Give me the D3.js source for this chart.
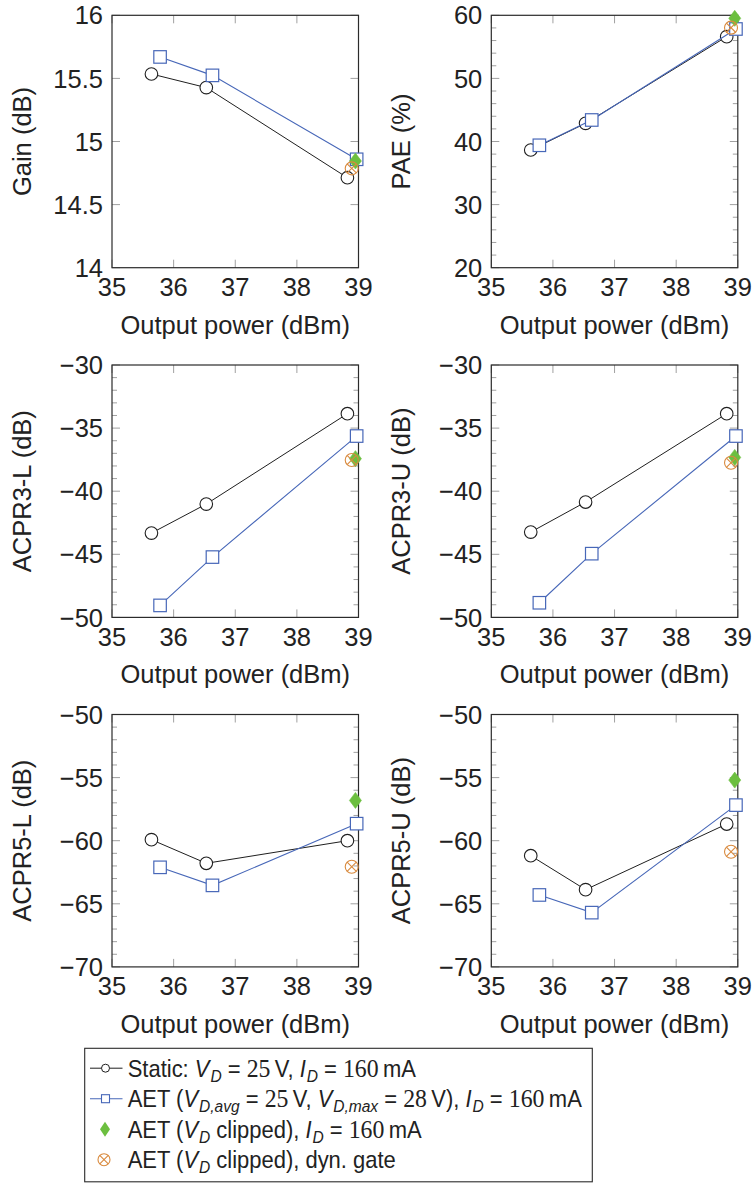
<!DOCTYPE html>
<html>
<head>
<meta charset="utf-8">
<script src="https://cdn.jsdelivr.net/npm/d3@7/dist/d3.min.js"></script>
<style>
  html, body { margin: 0; padding: 0; background: #fff; }
  svg { display: block; }
  text { font-family: "Liberation Sans", Arial, Helvetica, sans-serif; fill: #222; }
</style>
</head>
<body>
<svg id="chart" width="754" height="1183"></svg>
<script>
// Output power (dBm) of each measurement point
const xTicks = [35, 36, 37, 38, 39];
const staticPower = [35.64, 36.53, 38.82];
const aetPower = [35.78, 36.63, 38.97];
const clippedPower = 38.95;
const dynGatePower = 38.89;

// Gain (dB)
const gainStatic = [15.535, 15.427, 14.713];
const gainAet = [15.67, 15.524, 14.859];
const gainClipped = 14.845;
const gainDynGate = 14.787;

// PAE (%)
const paeStatic = [38.65, 42.88, 56.62];
const paeAet = [39.4, 43.41, 57.83];
const paeClipped = 59.52;
const paeDynGate = 58.04;

// ACPR3 lower / upper (dB)
const acpr3LStatic = [-43.32, -41.02, -33.86];
const acpr3LAet = [-49.05, -45.22, -35.63];
const acpr3LClipped = -37.42;
const acpr3LDynGate = -37.53;

const acpr3UStatic = [-43.24, -40.86, -33.86];
const acpr3UAet = [-48.84, -44.95, -35.63];
const acpr3UClipped = -37.32;
const acpr3UDynGate = -37.74;

// ACPR5 lower / upper (dB)
const acpr5LStatic = [-59.92, -61.79, -60.0];
const acpr5LAet = [-62.11, -63.54, -58.65];
const acpr5LClipped = -56.81;
const acpr5LDynGate = -62.06;

const acpr5UStatic = [-61.19, -63.88, -58.68];
const acpr5UAet = [-64.30, -65.70, -57.18];
const acpr5UClipped = -55.20;
const acpr5UDynGate = -60.87;

// y-axis ranges and ticks
const gainTicks = [14, 14.5, 15, 15.5, 16];
const paeTicks = [20, 30, 40, 50, 60];
const acpr3Ticks = [-50, -45, -40, -35, -30];
const acpr5Ticks = [-70, -65, -60, -55, -50];

const panels = [
  { label: "Gain (dB)", col: 0, row: 0, domain: [14, 16], ticks: gainTicks, minorStep: null,
    stat: gainStatic, aet: gainAet, clipped: gainClipped, dyn: gainDynGate },
  { label: "PAE (%)", col: 1, row: 0, domain: [20, 60], ticks: paeTicks, minorStep: 2,
    stat: paeStatic, aet: paeAet, clipped: paeClipped, dyn: paeDynGate },
  { label: "ACPR3-L (dB)", col: 0, row: 1, domain: [-50, -30], ticks: acpr3Ticks, minorStep: 1,
    stat: acpr3LStatic, aet: acpr3LAet, clipped: acpr3LClipped, dyn: acpr3LDynGate },
  { label: "ACPR3-U (dB)", col: 1, row: 1, domain: [-50, -30], ticks: acpr3Ticks, minorStep: 1,
    stat: acpr3UStatic, aet: acpr3UAet, clipped: acpr3UClipped, dyn: acpr3UDynGate },
  { label: "ACPR5-L (dB)", col: 0, row: 2, domain: [-70, -50], ticks: acpr5Ticks, minorStep: 1,
    stat: acpr5LStatic, aet: acpr5LAet, clipped: acpr5LClipped, dyn: acpr5LDynGate },
  { label: "ACPR5-U (dB)", col: 1, row: 2, domain: [-70, -50], ticks: acpr5Ticks, minorStep: 1,
    stat: acpr5UStatic, aet: acpr5UAet, clipped: acpr5UClipped, dyn: acpr5UDynGate }
];

// layout
const colLeft = [112, 491.3];
const plotW = 246.5;
const rowTop = [15.3, 365, 714.5];
const plotH = 252.4;
const fontSize = 25.5;

const COLORS = {
  stat: "#1f1f1f",
  aet: "#4767b8",
  clipped: "#6cbf3f",
  dyn: "#d98a3e",
  frame: "#2b2b2b",
  tick: "#a0a0a0"
};

const svg = d3.select("#chart");
const fmt = v => (v < 0 ? "\u2212" + Math.abs(v) : String(v));

function drawMarkers(g, type, pts, x, y) {
  if (type === "circle") {
    g.selectAll(null).data(pts).join("circle")
      .attr("cx", d => x(d[0])).attr("cy", d => y(d[1])).attr("r", 6.3)
      .attr("fill", "#fff").attr("stroke", COLORS.stat).attr("stroke-width", 1.1);
  } else if (type === "square") {
    const s = 12.5;
    g.selectAll(null).data(pts).join("rect")
      .attr("x", d => x(d[0]) - s / 2).attr("y", d => y(d[1]) - s / 2)
      .attr("width", s).attr("height", s)
      .attr("fill", "#fff").attr("stroke", COLORS.aet).attr("stroke-width", 1.2);
  } else if (type === "diamond") {
    const w = 6, h = 8;
    g.selectAll(null).data(pts).join("path")
      .attr("d", d => {
        const cx = x(d[0]), cy = y(d[1]);
        return `M${cx},${cy - h}L${cx + w},${cy}L${cx},${cy + h}L${cx - w},${cy}Z`;
      })
      .attr("fill", COLORS.clipped).attr("stroke", COLORS.clipped).attr("stroke-width", 0.6);
  } else if (type === "otimes") {
    const r = 6.5, k = r * Math.SQRT1_2;
    const m = g.selectAll(null).data(pts).join("g")
      .attr("transform", d => `translate(${x(d[0])},${y(d[1])})`)
      .attr("fill", "none").attr("stroke", COLORS.dyn).attr("stroke-width", 1.1);
    m.append("circle").attr("r", r);
    m.append("path").attr("d", `M${-k},${-k}L${k},${k}M${-k},${k}L${k},${-k}`);
  }
}

panels.forEach(p => {
  const left = colLeft[p.col], top = rowTop[p.row];
  const x = d3.scaleLinear().domain([35, 39]).range([left, left + plotW]);
  const y = d3.scaleLinear().domain(p.domain).range([top + plotH, top]);
  const g = svg.append("g");

  // inward ticks on all four sides
  const tickG = g.append("g").attr("stroke", COLORS.tick).attr("stroke-width", 1);
  if (p.minorStep) {
    const minor = d3.range(p.domain[0], p.domain[1] + 1e-9, p.minorStep)
      .filter(v => !p.ticks.some(t => Math.abs(t - v) < 1e-9));
    minor.forEach(v => {
      tickG.append("line").attr("x1", left).attr("x2", left + 5).attr("y1", y(v)).attr("y2", y(v));
      tickG.append("line").attr("x1", left + plotW - 5).attr("x2", left + plotW).attr("y1", y(v)).attr("y2", y(v));
    });
  }
  p.ticks.forEach(v => {
    tickG.append("line").attr("x1", left).attr("x2", left + 8).attr("y1", y(v)).attr("y2", y(v));
    tickG.append("line").attr("x1", left + plotW - 8).attr("x2", left + plotW).attr("y1", y(v)).attr("y2", y(v));
  });
  xTicks.forEach(v => {
    tickG.append("line").attr("x1", x(v)).attr("x2", x(v)).attr("y1", top + plotH).attr("y2", top + plotH - 8);
    tickG.append("line").attr("x1", x(v)).attr("x2", x(v)).attr("y1", top).attr("y2", top + 8);
  });

  // frame
  g.append("rect").attr("x", left).attr("y", top).attr("width", plotW).attr("height", plotH)
    .attr("fill", "none").attr("stroke", COLORS.frame).attr("stroke-width", 1.2);

  // tick labels
  g.selectAll(null).data(p.ticks).join("text")
    .attr("x", left - 9).attr("y", d => y(d)).attr("dy", "0.36em")
    .attr("text-anchor", "end").attr("font-size", fontSize).text(fmt);
  g.selectAll(null).data(xTicks).join("text")
    .attr("x", d => x(d)).attr("y", top + plotH + 28.5)
    .attr("text-anchor", "middle").attr("font-size", fontSize).text(d => d);

  // axis titles
  g.append("text").attr("x", left + plotW / 2).attr("y", top + plotH + 66)
    .attr("text-anchor", "middle").attr("font-size", fontSize).text("Output power (dBm)");
  g.append("text")
    .attr("transform", `translate(${left - 81},${top + plotH / 2}) rotate(-90)`)
    .attr("text-anchor", "middle").attr("font-size", fontSize).text(p.label);

  // series
  const line = d3.line().x(d => x(d[0])).y(d => y(d[1]));
  const statPts = staticPower.map((v, i) => [v, p.stat[i]]);
  const aetPts = aetPower.map((v, i) => [v, p.aet[i]]);
  g.append("path").attr("d", line(statPts)).attr("fill", "none")
    .attr("stroke", COLORS.stat).attr("stroke-width", 1);
  drawMarkers(g, "circle", statPts, x, y);
  g.append("path").attr("d", line(aetPts)).attr("fill", "none")
    .attr("stroke", COLORS.aet).attr("stroke-width", 1.1);
  drawMarkers(g, "square", aetPts, x, y);
  drawMarkers(g, "diamond", [[clippedPower, p.clipped]], x, y);
  drawMarkers(g, "otimes", [[dynGatePower, p.dyn]], x, y);
});

// legend
const legendEntries = [
  { marker: "circle", parts: [["s", "Static: "], ["i", "V"], ["sub", "D"], ["s", " = "], ["n", "25"], ["s", "\u2009V, "],
    ["i", "I"], ["sub", "D"], ["s", " = "], ["n", "160"], ["s", "\u2009mA"]] },
  { marker: "square", parts: [["s", "AET ("], ["i", "V"], ["sub", "D,avg"], ["s", " = "], ["n", "25"], ["s", "\u2009V, "],
    ["i", "V"], ["sub", "D,max"], ["s", " = "], ["n", "28"], ["s", "\u2009V), "],
    ["i", "I"], ["sub", "D"], ["s", " = "], ["n", "160"], ["s", "\u2009mA"]] },
  { marker: "diamond", parts: [["s", "AET ("], ["i", "V"], ["sub", "D"], ["s", " clipped), "],
    ["i", "I"], ["sub", "D"], ["s", " = "], ["n", "160"], ["s", "\u2009mA"]] },
  { marker: "otimes", parts: [["s", "AET ("], ["i", "V"], ["sub", "D"], ["s", " clipped), dyn. gate"]] }
];

const legend = svg.append("g");
legend.append("rect").attr("x", 84.7).attr("y", 1048.3).attr("width", 507.6).attr("height", 133.5)
  .attr("fill", "#fff").attr("stroke", COLORS.frame).attr("stroke-width", 1.1);

const legFont = 24;
const legTextLeft = 127.7;
const legSquash = 0.915; // the legend face is set slightly narrower than the axis text
legendEntries.forEach((e, i) => {
  const base = 1076.7 + i * 30.5;
  const cy = base - 8.5;
  const row = legend.append("g");
  if (e.marker === "circle") {
    row.append("line").attr("x1", 90).attr("x2", 122.5).attr("y1", cy).attr("y2", cy)
      .attr("stroke", COLORS.stat).attr("stroke-width", 1);
    row.append("circle").attr("cx", 105.5).attr("cy", cy).attr("r", 4)
      .attr("fill", "#fff").attr("stroke", COLORS.stat).attr("stroke-width", 1);
  } else if (e.marker === "square") {
    row.append("line").attr("x1", 90).attr("x2", 122.5).attr("y1", cy).attr("y2", cy)
      .attr("stroke", COLORS.aet).attr("stroke-width", 1.1);
    row.append("rect").attr("x", 101.5).attr("y", cy - 4).attr("width", 8).attr("height", 8)
      .attr("fill", "#fff").attr("stroke", COLORS.aet).attr("stroke-width", 1.1);
  } else if (e.marker === "diamond") {
    row.append("path").attr("d", `M105,${cy - 7.5}L110,${cy}L105,${cy + 7.5}L100,${cy}Z`)
      .attr("fill", COLORS.clipped);
  } else {
    const r = 6, k = r * Math.SQRT1_2;
    const m = row.append("g").attr("transform", `translate(104,${cy})`)
      .attr("fill", "none").attr("stroke", COLORS.dyn).attr("stroke-width", 1.1);
    m.append("circle").attr("r", r);
    m.append("path").attr("d", `M${-k},${-k}L${k},${k}M${-k},${k}L${k},${-k}`);
  }

  const textG = row.append("g").attr("transform", `translate(${legTextLeft},0) scale(${legSquash},1)`);
  let cx = 0;
  e.parts.forEach(([kind, str]) => {
    const t = textG.append("text").attr("x", cx).attr("y", base).attr("font-size", legFont)
      .style("white-space", "pre").attr("xml:space", "preserve").text(str);
    if (kind === "i") t.attr("font-style", "italic");
    if (kind === "sub") t.attr("font-style", "italic").attr("font-size", 17).attr("y", base + 5);
    if (kind === "n") t.style("font-family", "'Liberation Serif', 'DejaVu Serif', serif").attr("font-size", 26);
    cx += t.node().getComputedTextLength();
    if (kind === "i") cx += 1;
  });
});
</script>
</body>
</html>
